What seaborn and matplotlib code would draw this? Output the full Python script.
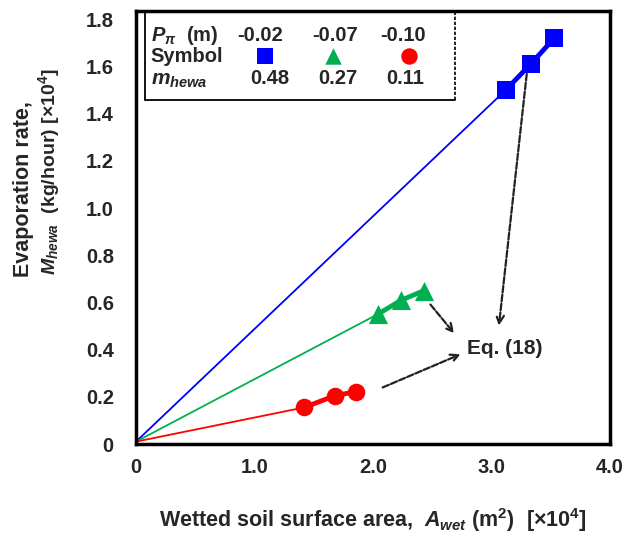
import matplotlib
matplotlib.use("Agg")
import matplotlib.pyplot as plt
import seaborn as sns
import pandas as pd
import numpy as np

sns.set_theme(style="white")
plt.rcParams['font.family'] = ['Liberation Sans', 'DejaVu Sans']
plt.rcParams['font.weight'] = 'bold'
plt.rcParams['mathtext.fontset'] = 'custom'
plt.rcParams['mathtext.rm'] = 'Liberation Sans:bold'
plt.rcParams['mathtext.it'] = 'Liberation Sans:bold:italic'
plt.rcParams['mathtext.bf'] = 'Liberation Sans:bold'

# Data
pressure = ["-0.02", "-0.07", "-0.10"]
m_hewa = ["0.48", "0.27", "0.11"]
area_blue = [3.12, 3.33, 3.53]
rate_blue = [1.50, 1.61, 1.72]
area_green = [2.04, 2.24, 2.43]
rate_green = [0.55, 0.61, 0.65]
area_red = [1.42, 1.68, 1.86]
rate_red = [0.155, 0.205, 0.222]
colors = ["#0000FF", "#00B050", "#FF0000"]
markers = ["s", "^", "o"]
x_ticks = [0, 1.0, 2.0, 3.0, 4.0]
x_ticklabels = ["0", "1.0", "2.0", "3.0", "4.0"]
y_ticks = [0, 0.2, 0.4, 0.6, 0.8, 1.0, 1.2, 1.4, 1.6, 1.8]
y_ticklabels = ["0", "0.2", "0.4", "0.6", "0.8", "1.0", "1.2", "1.4", "1.6", "1.8"]

series = [(area_blue, rate_blue), (area_green, rate_green), (area_red, rate_red)]

fig = plt.figure(figsize=(6.23, 5.35), dpi=100)
ax = fig.add_axes([136/623, 1-444/535, (610-136)/623, (444-11)/535])

sizes = {"s": 160, "^": 190, "o": 160}
for i, (xs, ys) in enumerate(series):
    df_line = pd.DataFrame({"A": [0] + [xs[0]], "M": [0.01] + [ys[0]]})
    sns.lineplot(data=df_line, x="A", y="M", ax=ax, color=colors[i], lw=1.3, sort=False)
    df_pts = pd.DataFrame({"A": xs, "M": ys})
    sns.lineplot(data=df_pts, x="A", y="M", ax=ax, color=colors[i], lw=3.5, sort=False)
    sns.scatterplot(data=df_pts, x="A", y="M", ax=ax, color=colors[i], marker=markers[i],
                    s=sizes[markers[i]], edgecolor=colors[i], linewidth=0, zorder=5)

ax.set_xlim(0, 4.0)
ax.set_ylim(0, 1.835)
ax.set_xticks(x_ticks)
ax.set_xticklabels(x_ticklabels)
ax.set_yticks(y_ticks)
ax.set_yticklabels(y_ticklabels)
ax.tick_params(direction="in", length=4, width=1.5, labelsize=14.5)
ax.tick_params(axis="y", pad=16)
ax.tick_params(axis="x", pad=10)
for lab in ax.get_xticklabels() + ax.get_yticklabels():
    lab.set_fontweight("bold")
for sp in ax.spines.values():
    sp.set_linewidth(2.5)
    sp.set_color("black")

ax.set_xlabel(r"Wetted soil surface area,  $A_{wet}$ (m$^2$)  [×10$^4$]", fontsize=15.5,
              fontweight="bold", labelpad=21)
ax.set_ylabel("")
fig.text(23/623, 1-277/535, "Evaporation rate,", rotation=90, fontsize=15.5,
         fontweight="bold", ha="center", va="bottom")
fig.text(49/623, 1-275/535, r"$M_{hewa}$  (kg/hour) [×10$^4$]", rotation=90, fontsize=14,
         fontweight="bold", ha="center", va="bottom")

# Eq. (18) annotations
ax.text(2.79, 0.405, "Eq. (18)", fontsize=15, fontweight="bold", va="center", ha="left")
arrow_kw = dict(arrowstyle="->", color="#222222", lw=1.6, linestyle=(0, (3, 1)),
                mutation_scale=14)
ax.annotate("", xy=(3.06, 0.49), xytext=(3.30, 1.58), arrowprops=arrow_kw)
ax.annotate("", xy=(2.70, 0.46), xytext=(2.47, 0.60), arrowprops=arrow_kw)
ax.annotate("", xy=(2.76, 0.385), xytext=(2.06, 0.235), arrowprops=arrow_kw)

# Legend table box
bx0, bx1, by0, by1 = 0.019, 0.672, 0.794, 0.997
tk = ax.transAxes
ax.plot([bx0, bx0], [by0, by1], transform=tk, color="black", lw=1.3)
ax.plot([bx0, bx1], [by0, by0], transform=tk, color="black", lw=1.3)
ax.plot([bx1, bx1], [by0, by1], transform=tk, color="black", lw=1.2, linestyle=(0, (2, 1)))
row_y = [0.944, 0.895, 0.843]
ax.text(0.032, row_y[0], r"$P_\pi$  (m)", transform=tk, fontsize=14.5, va="center")
ax.text(0.030, row_y[1], "Symbol", transform=tk, fontsize=14.5, va="center",
        fontweight="bold")
ax.text(0.032, row_y[2] - 0.004, r"$m_{hewa}$", transform=tk, fontsize=15, va="center")
col_x = [0.262, 0.420, 0.563]
sym_x = [0.272, 0.416, 0.576]
val_x = [0.283, 0.426, 0.568]
for i in range(3):
    ax.text(col_x[i], row_y[0], pressure[i], transform=tk, fontsize=14.5,
            va="center", ha="center", fontweight="bold")
    ax.text(val_x[i], row_y[2], m_hewa[i], transform=tk, fontsize=14.5,
            va="center", ha="center", fontweight="bold")
    ax.scatter([sym_x[i]], [row_y[1]], transform=tk, marker=markers[i],
               s=140, color=colors[i], linewidth=0, zorder=7)

fig.savefig("out.png", dpi=100)
